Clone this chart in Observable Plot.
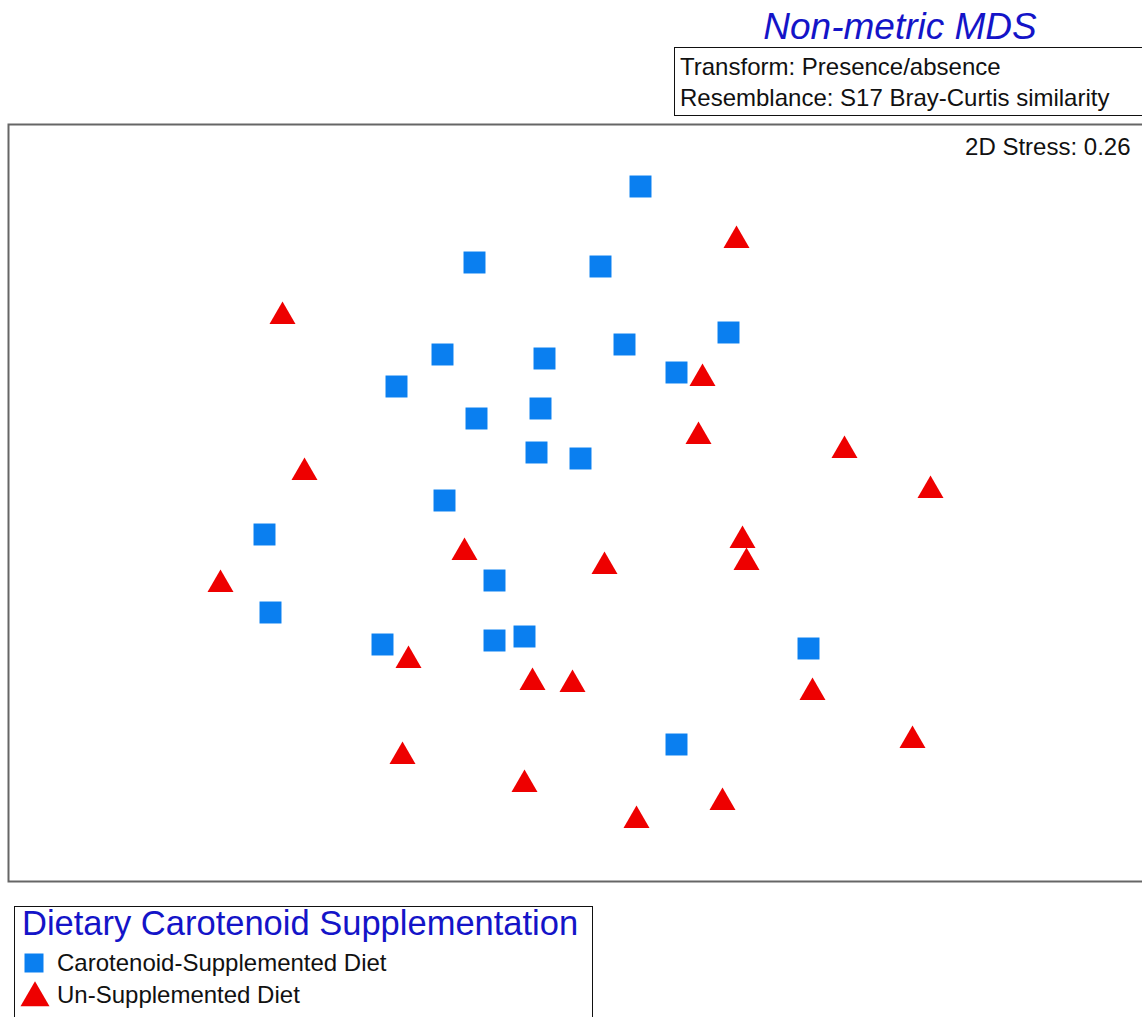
<!DOCTYPE html>
<html>
<head>
<meta charset="utf-8">
<script src="https://cdn.jsdelivr.net/npm/d3@7"></script>
<script src="https://cdn.jsdelivr.net/npm/@observablehq/plot@0.6"></script>
<style>
  html, body { margin: 0; padding: 0; background: #fff; overflow: hidden; }
  #page { position: relative; width: 1142px; height: 1017px; overflow: hidden;
          font-family: "Liberation Sans", Arial, sans-serif; }
  #page .abs { position: absolute; white-space: nowrap; line-height: 1; }
  #chart { position: absolute; left: 0; top: 0; width: 1150px; }
  #chart svg { max-width: none !important; }
</style>
</head>
<body>
<div id="page">
  <div id="chart"></div>
  <div class="abs" id="title" style="left:700px; width:400px; text-align:center; top:8px; font-size:37px; font-style:italic; color:#1414c8;"></div>
  <div class="abs" id="infobox" style="left:674px; top:47px; width:520px; height:67px; border:1px solid #111;"></div>
  <div class="abs" id="info1" style="left:680px; top:55px; font-size:24px; color:#111;"></div>
  <div class="abs" id="info2" style="left:680px; top:86px; font-size:24px; color:#111;"></div>
  <div class="abs" id="legendbox" style="left:14px; top:906px; width:577px; height:140px; border:1px solid #111;"></div>
  <div class="abs" id="legendtitle" style="left:22px; top:906px; font-size:34.5px; color:#1414c8;"></div>
  <div id="legenditems"></div>
</div>
<script>
// ---- data ----
const title = "Non-metric MDS";
const infoLines = ["Transform: Presence/absence", "Resemblance: S17 Bray-Curtis similarity"];
const stressLabel = "2D Stress: 0.26";
const legendTitle = "Dietary Carotenoid Supplementation";
const groups = ["Carotenoid-Supplemented Diet", "Un-Supplemented Diet"];
const groupColors = ["#0a7ff0", "#ee0000"];
const groupSymbols = ["square", "triangle"];

const carotenoidX = [0.36,-0.47,0.16,0.80,0.28,-0.63,-0.12,0.54,-0.86,-0.14,-0.46,-0.16,0.06,-0.62,-1.52,-0.37,-1.49,-0.93,-0.37,-0.22,1.20,0.54];
const carotenoidY = [1.59,1.21,1.19,0.86,0.80,0.75,0.73,0.66,0.59,0.48,0.43,0.26,0.23,0.02,-0.15,-0.38,-0.54,-0.70,-0.68,-0.66,-0.72,-1.20];

const unsuppX = [0.84,-1.43,0.67,0.65,1.38,-1.32,1.81,0.87,-0.52,0.18,0.89,-1.74,-0.80,-0.18,0.02,1.22,1.72,-0.83,-0.22,0.77,0.34];
const unsuppY = [1.32,0.94,0.63,0.34,0.27,0.16,0.07,-0.18,-0.24,-0.31,-0.29,-0.40,-0.78,-0.89,-0.90,-0.94,-1.18,-1.26,-1.40,-1.49,-1.58];

// ---- build ----
const carotenoid = carotenoidX.map((x, i) => ({x, y: carotenoidY[i]}));
const unsupp = unsuppX.map((x, i) => ({x, y: unsuppY[i]}));

const plot = Plot.plot({
  width: 1150,
  height: 1017,
  marginTop: 124,
  marginBottom: 136,
  marginLeft: 8,
  marginRight: 0,
  style: {fontFamily: "'Liberation Sans', Arial, sans-serif", background: "transparent", maxWidth: "none"},
  x: {domain: [-2.8, 2.91], axis: null},
  y: {domain: [-1.885, 1.9], axis: null},
  marks: [
    Plot.frame({stroke: "#666", strokeWidth: 2}),
    Plot.dot(carotenoid, {x: "x", y: "y", symbol: groupSymbols[0], r: 12.4, fill: groupColors[0], stroke: "none"}),
    Plot.dot(unsupp, {x: "x", y: "y", symbol: groupSymbols[1], r: 9.65, fill: groupColors[1], stroke: "none"}),
    Plot.text([stressLabel], {text: d => d, frameAnchor: "top-right", textAnchor: "end", lineAnchor: "bottom", dx: -20, dy: 30, fontSize: 24, fill: "#111"})
  ]
});
document.getElementById("chart").appendChild(plot);

document.getElementById("title").textContent = title;
document.getElementById("info1").textContent = infoLines[0];
document.getElementById("info2").textContent = infoLines[1];
document.getElementById("legendtitle").textContent = legendTitle;

// legend items
const itemTops = [951, 983];
const items = document.getElementById("legenditems");
groups.forEach((g, i) => {
  const sw = document.createElementNS("http://www.w3.org/2000/svg", "svg");
  sw.setAttribute("width", 34);
  sw.setAttribute("height", 34);
  sw.style.position = "absolute";
  sw.style.left = "18px";
  sw.style.top = (itemTops[i] - 4) + "px";
  const sym = i === 0 ? d3.symbolSquare : d3.symbolTriangle;
  const size = i === 0 ? 19 * 19 : Math.pow(29 / (2 * Math.sqrt(3)), 2) * Math.sqrt(3) * 3;
  const p = document.createElementNS("http://www.w3.org/2000/svg", "path");
  p.setAttribute("d", d3.symbol(sym, size)());
  p.setAttribute("transform", i === 0 ? "translate(16,16)" : "translate(17,19)");
  p.setAttribute("fill", groupColors[i]);
  sw.appendChild(p);
  items.appendChild(sw);
  const t = document.createElement("div");
  t.className = "abs";
  t.style.left = "57px";
  t.style.top = itemTops[i] + "px";
  t.style.fontSize = "24px";
  t.style.color = "#111";
  t.textContent = g;
  items.appendChild(t);
});
</script>
</body>
</html>
